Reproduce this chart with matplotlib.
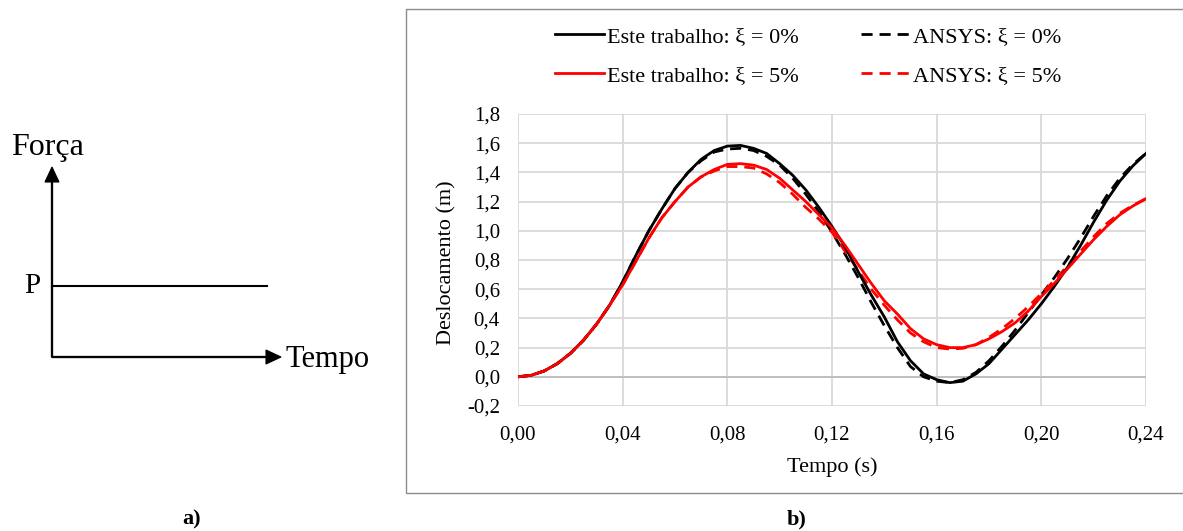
import numpy as np
import matplotlib
matplotlib.use("Agg")
from matplotlib import pyplot as plt
from matplotlib.patches import Rectangle, FancyArrow

plt.rcParams['font.family'] = ['Liberation Serif', 'DejaVu Serif']

# time samples (s)
tempo = [0.000, 0.005, 0.010, 0.015, 0.020, 0.025, 0.030, 0.035, 0.040, 0.045,
         0.050, 0.055, 0.060, 0.065, 0.070, 0.075, 0.080, 0.085, 0.090, 0.095,
         0.100, 0.105, 0.110, 0.115, 0.120, 0.125, 0.130, 0.135, 0.140, 0.145,
         0.150, 0.155, 0.160, 0.165, 0.170, 0.175, 0.180, 0.185, 0.190, 0.195,
         0.200, 0.205, 0.210, 0.215, 0.220, 0.225, 0.230, 0.235, 0.240]

# displacement (m)
este_0 = [0.00, 0.01, 0.04, 0.09, 0.16, 0.25, 0.36, 0.49, 0.65, 0.83,
          1.00, 1.15, 1.29, 1.40, 1.49, 1.55, 1.58, 1.585, 1.565, 1.53,
          1.46, 1.38, 1.28, 1.16, 1.03, 0.89, 0.72, 0.56, 0.41, 0.24,
          0.11, 0.02, -0.02, -0.04, -0.03, 0.02, 0.09, 0.19, 0.29, 0.39,
          0.50, 0.62, 0.75, 0.90, 1.06, 1.21, 1.34, 1.445, 1.53]
ansys_0 = [0.00, 0.01, 0.04, 0.09, 0.16, 0.25, 0.36, 0.49, 0.65, 0.83,
           1.00, 1.15, 1.29, 1.40, 1.48, 1.54, 1.56, 1.565, 1.55, 1.51,
           1.45, 1.36, 1.25, 1.13, 0.99, 0.84, 0.68, 0.51, 0.35, 0.20,
           0.07, 0.00, -0.03, -0.04, -0.02, 0.03, 0.11, 0.21, 0.32, 0.44,
           0.56, 0.68, 0.81, 0.95, 1.10, 1.24, 1.36, 1.455, 1.53]
este_5 = [0.00, 0.01, 0.04, 0.09, 0.16, 0.25, 0.36, 0.49, 0.63, 0.79,
          0.95, 1.09, 1.20, 1.30, 1.37, 1.42, 1.455, 1.46, 1.45, 1.42,
          1.36, 1.28, 1.20, 1.11, 1.02, 0.90, 0.77, 0.64, 0.52, 0.43,
          0.33, 0.26, 0.22, 0.20, 0.20, 0.22, 0.26, 0.31, 0.37, 0.45,
          0.55, 0.64, 0.74, 0.84, 0.94, 1.03, 1.11, 1.17, 1.22]
ansys_5 = [0.00, 0.01, 0.04, 0.09, 0.16, 0.25, 0.36, 0.49, 0.63, 0.79,
           0.95, 1.09, 1.20, 1.30, 1.37, 1.41, 1.44, 1.44, 1.43, 1.39,
           1.33, 1.25, 1.16, 1.08, 0.99, 0.86, 0.73, 0.60, 0.49, 0.39,
           0.30, 0.24, 0.20, 0.19, 0.195, 0.22, 0.27, 0.33, 0.40, 0.48,
           0.57, 0.66, 0.76, 0.86, 0.96, 1.05, 1.12, 1.175, 1.22]

x_ticks = [0.00, 0.04, 0.08, 0.12, 0.16, 0.20, 0.24]
x_labels = ['0,00', '0,04', '0,08', '0,12', '0,16', '0,20', '0,24']
y_ticks = [-0.2, 0.0, 0.2, 0.4, 0.6, 0.8, 1.0, 1.2, 1.4, 1.6, 1.8]
y_labels = ['-0,2', '0,0', '0,2', '0,4', '0,6', '0,8', '1,0', '1,2', '1,4', '1,6', '1,8']

W, H = 1183, 531
fig = plt.figure(figsize=(W / 100, H / 100), dpi=100)

# --- panel a): load sketch, drawn in pixel coords on an overlay
sk = fig.add_axes([0, 0, 1, 1])
sk.set_xlim(0, W)
sk.set_ylim(H, 0)
sk.axis('off')
sk.add_patch(FancyArrow(52, 357, 0, -175, width=1.2, head_width=14, head_length=15,
                        length_includes_head=False, color='black', lw=0.8))
sk.add_patch(FancyArrow(52, 357, 214, 0, width=1.2, head_width=14, head_length=15,
                        length_includes_head=False, color='black', lw=0.8))
sk.plot([52, 267], [286, 286], color='black', lw=1.5)
sk.text(11, 147, 'Força', fontsize=23, ha='left', va='center')
sk.text(24, 286, 'P', fontsize=21, ha='left', va='center')
sk.text(286, 359, 'Tempo', fontsize=22, ha='left', va='center')
sk.text(192, 519, 'a)', fontsize=16, fontweight='bold', ha='center', va='center')
sk.text(797, 519, 'b)', fontsize=16, fontweight='bold', ha='center', va='center')
sk.add_patch(Rectangle((406, 9), 800, 484, fill=False, edgecolor='#8c8c8c', lw=1.0))

# --- panel b): displacement history
ax = fig.add_axes([518 / W, 1 - 406 / H, 628 / W, 292 / H])
ax.set_zorder(2)
ax.patch.set_alpha(0)

dash = (0, (4, 2.5))
ax.plot(tempo, este_0, color='black', lw=2.0, label='Este trabalho: ξ = 0%', zorder=4)
ax.plot(tempo, este_5, color='#ff0000', lw=2.0, label='Este trabalho: ξ = 5%', zorder=4)
ax.plot(tempo, ansys_0, color='black', lw=2.0, ls=dash, label='ANSYS: ξ = 0%', zorder=3)
ax.plot(tempo, ansys_5, color='#ff0000', lw=2.0, ls=dash, label='ANSYS: ξ = 5%', zorder=3)

ax.set_xlim(0, 0.24)
ax.set_ylim(-0.2, 1.8)
ax.set_xticks(x_ticks)
ax.set_xticklabels(x_labels)
ax.set_yticks(y_ticks)
ax.set_yticklabels(y_labels)
ax.tick_params(length=0, labelsize=15)
ax.tick_params(axis='y', pad=13)
ax.tick_params(axis='x', pad=14)
ax.grid(True, color='#d9d9d9', lw=1.3)
ax.set_axisbelow(True)
for s in ax.spines.values():
    s.set_visible(False)
ax.axhline(0, color='#bfbfbf', lw=1.4, zorder=1)

ax.set_xlabel('Tempo (s)', fontsize=16, va='center')
ax.xaxis.set_label_coords(0.5, (406 - 467) / 292)
ax.set_ylabel('Deslocamento (m)', fontsize=16, va='center')
ax.yaxis.set_label_coords((447 - 518) / 628, 0.49)

fig.legend(loc='center', bbox_to_anchor=(808 / W, 1 - 56 / H), ncol=2, frameon=False,
           fontsize=16, handlelength=2.2, handletextpad=0.15, columnspacing=2.8,
           labelspacing=0.85)

fig.savefig('out.png', dpi=100)
